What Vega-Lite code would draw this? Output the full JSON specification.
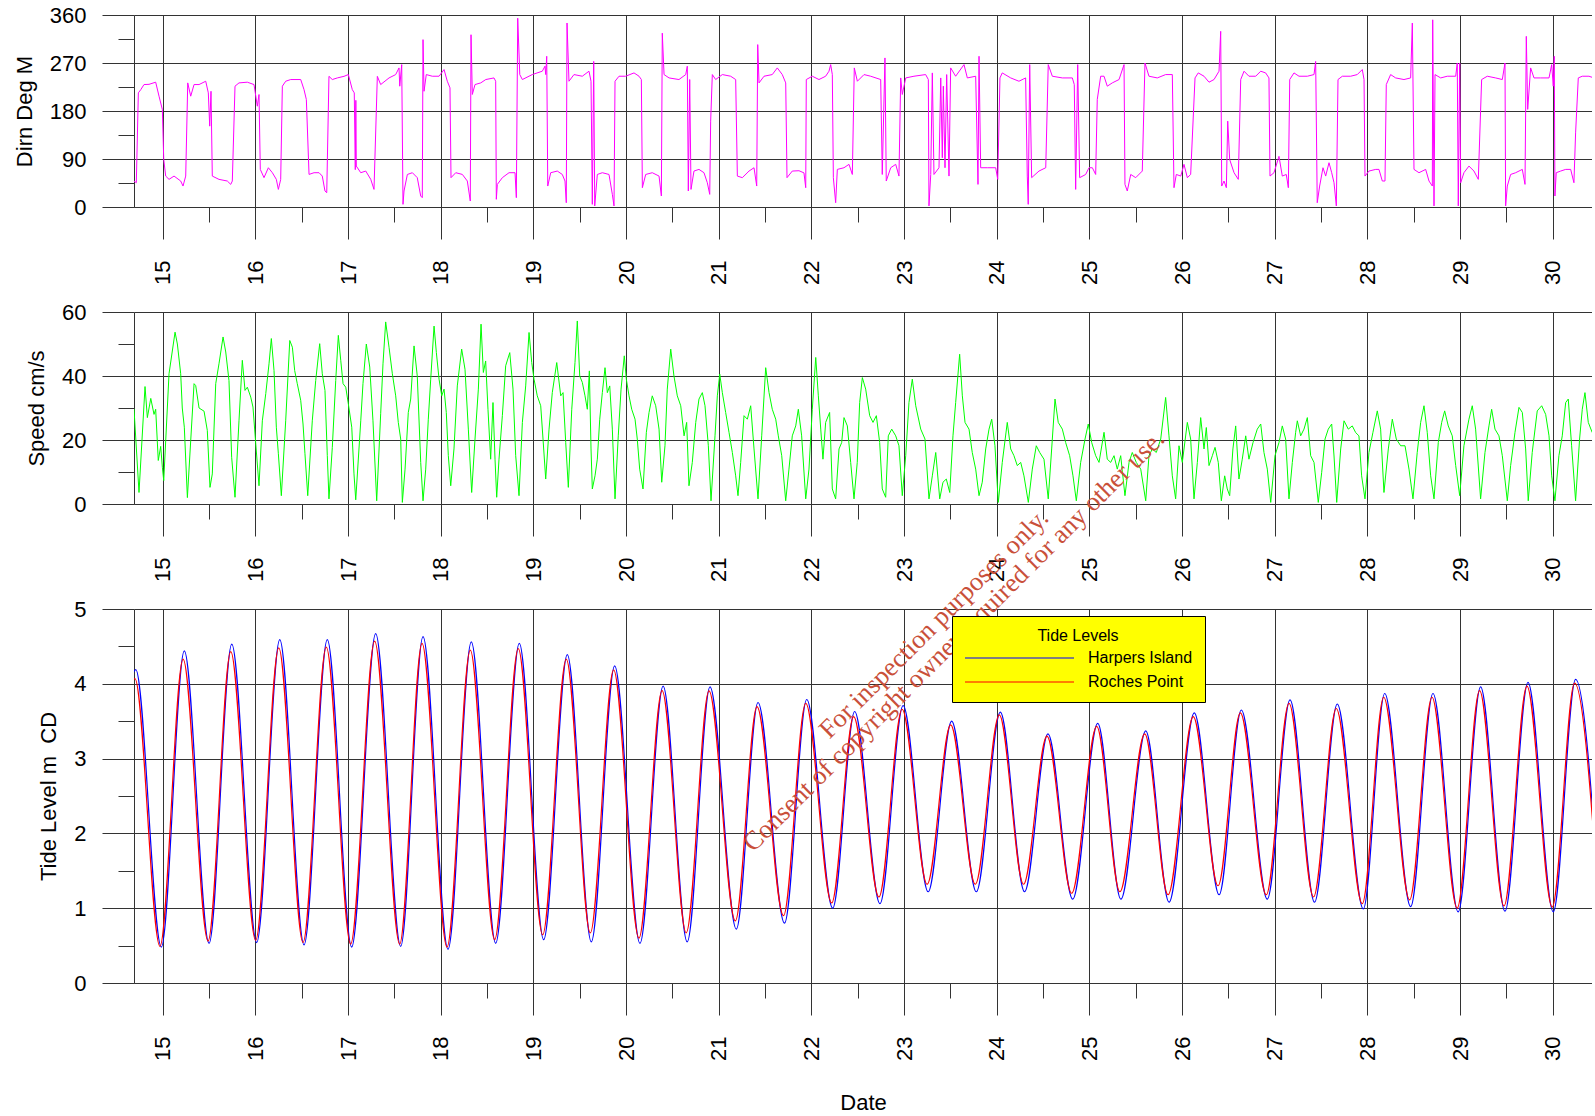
{
"$schema": "https://vega.github.io/schema/vega-lite/v6.json",
"background": "white",
"padding": {"left": 13, "top": 4, "right": 0, "bottom": 0},
"bounds": "flush",
"spacing": 105,
"resolve": {"legend": {"color": "independent"}, "scale": {"color": "independent"}},
"config": {
  "view": {"stroke": null},
  "axis": {
    "domainColor": "#333", "gridColor": "#333", "tickColor": "#333",
    "domainWidth": 1, "gridWidth": 1, "tickWidth": 1,
    "labelFont": "Liberation Sans", "labelFontSize": 22, "labelColor": "#000",
    "titleFont": "Liberation Sans", "titleFontSize": 22, "titleFontWeight": "normal", "titleColor": "#000",
    "labelOverlap": false, "labelFlush": false, "labelBound": false
  }
},
"datasets": {
"dir": [
{"day":14.690,"deg":48.7},{"day":14.715,"deg":45.5},{"day":14.737,"deg":214},{"day":14.763,"deg":220},{"day":14.798,"deg":229.6},{"day":14.852,"deg":230},{"day":14.924,"deg":234},{"day":14.960,"deg":207.8},{"day":14.996,"deg":182.8},{"day":15.011,"deg":89},{"day":15.032,"deg":58},{"day":15.068,"deg":51.8},{"day":15.122,"deg":58},{"day":15.194,"deg":48.7},{"day":15.219,"deg":39.3},{"day":15.248,"deg":58},{"day":15.270,"deg":232.7},{"day":15.302,"deg":207.8},{"day":15.338,"deg":229.6},{"day":15.392,"deg":229.6},{"day":15.464,"deg":235.8},{"day":15.492,"deg":214},{"day":15.507,"deg":151.6},{"day":15.521,"deg":217},{"day":15.535,"deg":58},{"day":15.607,"deg":51.8},{"day":15.697,"deg":48.7},{"day":15.734,"deg":42.4},{"day":15.751,"deg":48.7},{"day":15.780,"deg":226.5},{"day":15.823,"deg":232.7},{"day":15.913,"deg":234},{"day":15.985,"deg":229.6},{"day":16.021,"deg":189},{"day":16.039,"deg":210.9},{"day":16.053,"deg":70.5},{"day":16.093,"deg":55},{"day":16.140,"deg":73.6},{"day":16.183,"deg":64.3},{"day":16.226,"deg":51.8},{"day":16.248,"deg":33},{"day":16.273,"deg":51.8},{"day":16.291,"deg":226.5},{"day":16.327,"deg":235.8},{"day":16.381,"deg":239},{"day":16.489,"deg":239},{"day":16.525,"deg":220},{"day":16.550,"deg":201.5},{"day":16.579,"deg":61.1},{"day":16.633,"deg":64.3},{"day":16.687,"deg":64.3},{"day":16.722,"deg":58},{"day":16.751,"deg":30},{"day":16.770,"deg":26.8},{"day":16.794,"deg":245},{"day":16.830,"deg":239},{"day":16.884,"deg":242},{"day":16.956,"deg":245},{"day":17.003,"deg":248.3},{"day":17.046,"deg":220},{"day":17.067,"deg":214},{"day":17.078,"deg":70},{"day":17.084,"deg":200},{"day":17.089,"deg":76.7},{"day":17.137,"deg":64.3},{"day":17.191,"deg":67.4},{"day":17.245,"deg":51.8},{"day":17.280,"deg":33},{"day":17.316,"deg":245},{"day":17.352,"deg":229.6},{"day":17.442,"deg":242},{"day":17.514,"deg":248.3},{"day":17.550,"deg":260.8},{"day":17.558,"deg":226.5},{"day":17.579,"deg":267},{"day":17.593,"deg":5},{"day":17.604,"deg":30},{"day":17.640,"deg":61},{"day":17.694,"deg":64.3},{"day":17.747,"deg":55},{"day":17.784,"deg":20.6},{"day":17.801,"deg":17.5},{"day":17.809,"deg":313.8},{"day":17.820,"deg":217},{"day":17.844,"deg":248.3},{"day":17.909,"deg":245.2},{"day":17.982,"deg":245.2},{"day":18.036,"deg":257.7},{"day":18.071,"deg":235.8},{"day":18.100,"deg":223.4},{"day":18.111,"deg":55},{"day":18.162,"deg":64.3},{"day":18.233,"deg":61.1},{"day":18.287,"deg":48.7},{"day":18.319,"deg":11.2},{"day":18.327,"deg":323},{"day":18.341,"deg":211},{"day":18.370,"deg":229.6},{"day":18.432,"deg":232.7},{"day":18.486,"deg":239},{"day":18.575,"deg":242},{"day":18.593,"deg":235.8},{"day":18.600,"deg":14.4},{"day":18.611,"deg":42.4},{"day":18.665,"deg":55},{"day":18.737,"deg":64.3},{"day":18.802,"deg":64.3},{"day":18.816,"deg":17.5},{"day":18.831,"deg":354},{"day":18.853,"deg":248.3},{"day":18.881,"deg":239},{"day":18.988,"deg":248.3},{"day":19.096,"deg":254.6},{"day":19.125,"deg":264},{"day":19.133,"deg":248.3},{"day":19.144,"deg":282.6},{"day":19.155,"deg":39.3},{"day":19.187,"deg":64.3},{"day":19.258,"deg":67.4},{"day":19.312,"deg":61},{"day":19.341,"deg":48.7},{"day":19.355,"deg":8},{"day":19.363,"deg":345},{"day":19.384,"deg":235.8},{"day":19.438,"deg":248.3},{"day":19.528,"deg":245.2},{"day":19.600,"deg":254.6},{"day":19.622,"deg":235.8},{"day":19.636,"deg":5},{"day":19.651,"deg":273},{"day":19.662,"deg":2},{"day":19.690,"deg":61},{"day":19.744,"deg":64.3},{"day":19.816,"deg":61},{"day":19.852,"deg":23.7},{"day":19.870,"deg":2},{"day":19.881,"deg":235.8},{"day":19.924,"deg":245.2},{"day":19.996,"deg":245.2},{"day":20.086,"deg":251.4},{"day":20.140,"deg":245.2},{"day":20.165,"deg":239},{"day":20.176,"deg":36.2},{"day":20.212,"deg":61},{"day":20.283,"deg":64.3},{"day":20.356,"deg":58},{"day":20.381,"deg":20.6},{"day":20.391,"deg":326},{"day":20.410,"deg":248.3},{"day":20.464,"deg":242},{"day":20.571,"deg":239},{"day":20.644,"deg":248.3},{"day":20.661,"deg":264},{"day":20.672,"deg":30},{"day":20.687,"deg":239},{"day":20.701,"deg":33},{"day":20.733,"deg":67.4},{"day":20.787,"deg":70.5},{"day":20.841,"deg":64.3},{"day":20.877,"deg":45.5},{"day":20.903,"deg":23.7},{"day":20.913,"deg":161},{"day":20.931,"deg":248.3},{"day":20.967,"deg":239},{"day":21.039,"deg":248.3},{"day":21.129,"deg":245.2},{"day":21.183,"deg":239},{"day":21.201,"deg":58},{"day":21.255,"deg":55},{"day":21.327,"deg":67.4},{"day":21.381,"deg":73.6},{"day":21.410,"deg":39.3},{"day":21.421,"deg":304.5},{"day":21.435,"deg":232.7},{"day":21.489,"deg":245.2},{"day":21.578,"deg":248.3},{"day":21.632,"deg":260.8},{"day":21.686,"deg":248.3},{"day":21.723,"deg":232.7},{"day":21.737,"deg":55},{"day":21.794,"deg":67.4},{"day":21.866,"deg":68},{"day":21.920,"deg":64},{"day":21.939,"deg":36.2},{"day":21.945,"deg":239},{"day":22.010,"deg":245.2},{"day":22.082,"deg":239},{"day":22.154,"deg":245.2},{"day":22.190,"deg":254.6},{"day":22.208,"deg":267},{"day":22.226,"deg":248.3},{"day":22.237,"deg":55},{"day":22.262,"deg":8},{"day":22.280,"deg":70.5},{"day":22.352,"deg":73.6},{"day":22.406,"deg":80},{"day":22.442,"deg":61},{"day":22.463,"deg":260.8},{"day":22.496,"deg":235.8},{"day":22.568,"deg":248.3},{"day":22.640,"deg":245.2},{"day":22.748,"deg":239},{"day":22.765,"deg":61},{"day":22.794,"deg":279.5},{"day":22.808,"deg":48.7},{"day":22.856,"deg":73.6},{"day":22.910,"deg":80},{"day":22.945,"deg":58},{"day":22.964,"deg":242},{"day":22.981,"deg":211},{"day":23.018,"deg":242},{"day":23.107,"deg":245.2},{"day":23.233,"deg":248.3},{"day":23.262,"deg":239},{"day":23.269,"deg":2},{"day":23.288,"deg":61},{"day":23.305,"deg":251.4},{"day":23.323,"deg":61},{"day":23.377,"deg":73.6},{"day":23.396,"deg":242},{"day":23.413,"deg":92.3},{"day":23.424,"deg":226.5},{"day":23.442,"deg":73.6},{"day":23.460,"deg":248.3},{"day":23.485,"deg":58},{"day":23.503,"deg":260.8},{"day":23.557,"deg":245.2},{"day":23.647,"deg":267},{"day":23.683,"deg":242},{"day":23.773,"deg":245.2},{"day":23.798,"deg":42.4},{"day":23.809,"deg":282.6},{"day":23.827,"deg":73.6},{"day":23.898,"deg":73.6},{"day":23.989,"deg":73.6},{"day":24.011,"deg":51.8},{"day":24.035,"deg":242},{"day":24.060,"deg":251.4},{"day":24.151,"deg":242},{"day":24.240,"deg":235.8},{"day":24.312,"deg":242},{"day":24.330,"deg":58},{"day":24.340,"deg":5},{"day":24.356,"deg":267},{"day":24.377,"deg":55},{"day":24.456,"deg":67.4},{"day":24.529,"deg":73.6},{"day":24.556,"deg":267},{"day":24.600,"deg":245.2},{"day":24.708,"deg":242},{"day":24.816,"deg":242},{"day":24.837,"deg":229.6},{"day":24.852,"deg":33},{"day":24.874,"deg":267},{"day":24.895,"deg":55},{"day":24.960,"deg":61},{"day":24.996,"deg":73.6},{"day":25.032,"deg":73.6},{"day":25.068,"deg":61},{"day":25.085,"deg":201.5},{"day":25.122,"deg":245.2},{"day":25.158,"deg":245.2},{"day":25.193,"deg":226.5},{"day":25.247,"deg":232.7},{"day":25.320,"deg":239},{"day":25.374,"deg":267},{"day":25.384,"deg":42.4},{"day":25.409,"deg":30},{"day":25.446,"deg":61},{"day":25.500,"deg":55},{"day":25.571,"deg":67.4},{"day":25.600,"deg":270},{"day":25.643,"deg":245.2},{"day":25.733,"deg":242},{"day":25.823,"deg":248.3},{"day":25.895,"deg":248.3},{"day":25.913,"deg":36.2},{"day":25.938,"deg":61},{"day":25.986,"deg":58},{"day":26.021,"deg":80},{"day":26.057,"deg":55},{"day":26.093,"deg":61},{"day":26.140,"deg":242},{"day":26.175,"deg":251.4},{"day":26.237,"deg":245.2},{"day":26.291,"deg":234},{"day":26.345,"deg":239},{"day":26.399,"deg":254.6},{"day":26.417,"deg":329.4},{"day":26.428,"deg":39.3},{"day":26.453,"deg":48.7},{"day":26.478,"deg":36.2},{"day":26.493,"deg":161},{"day":26.514,"deg":89},{"day":26.561,"deg":64.3},{"day":26.607,"deg":51.8},{"day":26.633,"deg":239},{"day":26.669,"deg":254.6},{"day":26.722,"deg":245.2},{"day":26.795,"deg":245.2},{"day":26.849,"deg":254.6},{"day":26.902,"deg":251.4},{"day":26.938,"deg":242},{"day":26.949,"deg":58},{"day":26.992,"deg":64.3},{"day":27.046,"deg":95},{"day":27.082,"deg":58},{"day":27.125,"deg":61},{"day":27.147,"deg":36.2},{"day":27.162,"deg":239},{"day":27.208,"deg":251.4},{"day":27.262,"deg":245.2},{"day":27.352,"deg":245.2},{"day":27.424,"deg":248.3},{"day":27.442,"deg":273},{"day":27.459,"deg":8},{"day":27.485,"deg":39.3},{"day":27.521,"deg":73.6},{"day":27.550,"deg":58},{"day":27.586,"deg":83},{"day":27.615,"deg":64.3},{"day":27.640,"deg":45.5},{"day":27.665,"deg":2},{"day":27.683,"deg":239},{"day":27.730,"deg":245.2},{"day":27.820,"deg":245.2},{"day":27.891,"deg":248.3},{"day":27.945,"deg":257.7},{"day":27.964,"deg":239},{"day":27.974,"deg":58},{"day":28.017,"deg":67.4},{"day":28.090,"deg":70.5},{"day":28.125,"deg":70.5},{"day":28.161,"deg":48.7},{"day":28.190,"deg":48.7},{"day":28.204,"deg":229.6},{"day":28.251,"deg":248.3},{"day":28.305,"deg":242},{"day":28.395,"deg":239},{"day":28.467,"deg":242},{"day":28.485,"deg":345},{"day":28.503,"deg":70.5},{"day":28.557,"deg":64.3},{"day":28.629,"deg":70.5},{"day":28.665,"deg":48.7},{"day":28.701,"deg":39.3},{"day":28.705,"deg":351},{"day":28.719,"deg":2},{"day":28.730,"deg":248.3},{"day":28.791,"deg":242},{"day":28.862,"deg":245.2},{"day":28.953,"deg":245.2},{"day":28.970,"deg":270},{"day":28.981,"deg":2},{"day":28.996,"deg":270},{"day":29.007,"deg":45.5},{"day":29.042,"deg":64.3},{"day":29.096,"deg":76.7},{"day":29.150,"deg":67.4},{"day":29.197,"deg":51.8},{"day":29.233,"deg":239},{"day":29.294,"deg":245.2},{"day":29.384,"deg":242},{"day":29.456,"deg":239},{"day":29.485,"deg":270},{"day":29.492,"deg":2},{"day":29.510,"deg":39.3},{"day":29.546,"deg":61},{"day":29.600,"deg":64.3},{"day":29.672,"deg":70.5},{"day":29.701,"deg":42.4},{"day":29.715,"deg":320},{"day":29.730,"deg":183},{"day":29.762,"deg":260.8},{"day":29.798,"deg":242},{"day":29.870,"deg":242},{"day":29.960,"deg":242},{"day":29.989,"deg":267},{"day":30.006,"deg":226.5},{"day":30.017,"deg":282.6},{"day":30.024,"deg":20.6},{"day":30.038,"deg":64.3},{"day":30.086,"deg":67.4},{"day":30.140,"deg":70.5},{"day":30.194,"deg":70.5},{"day":30.229,"deg":45.5},{"day":30.247,"deg":139},{"day":30.276,"deg":242},{"day":30.319,"deg":245.2},{"day":30.391,"deg":245.2},{"day":30.445,"deg":242}
],
"speed": [
{"day":14.690,"cms":29.7},{"day":14.744,"cms":3.6},{"day":14.809,"cms":36.7},{"day":14.834,"cms":27},{"day":14.871,"cms":33},{"day":14.906,"cms":28},{"day":14.924,"cms":29.6},{"day":14.952,"cms":13.6},{"day":14.978,"cms":18},{"day":14.996,"cms":11.5},{"day":15.011,"cms":7.3},{"day":15.068,"cms":40.7},{"day":15.133,"cms":53.7},{"day":15.158,"cms":50},{"day":15.194,"cms":40.7},{"day":15.211,"cms":30},{"day":15.233,"cms":24},{"day":15.266,"cms":2},{"day":15.302,"cms":19.8},{"day":15.338,"cms":37.6},{"day":15.356,"cms":37},{"day":15.392,"cms":30},{"day":15.446,"cms":29},{"day":15.481,"cms":23},{"day":15.510,"cms":5.2},{"day":15.535,"cms":9.4},{"day":15.572,"cms":37.6},{"day":15.607,"cms":43.8},{"day":15.651,"cms":52.2},{"day":15.680,"cms":47.5},{"day":15.715,"cms":38.6},{"day":15.744,"cms":14.6},{"day":15.780,"cms":2.1},{"day":15.823,"cms":26},{"day":15.859,"cms":44.9},{"day":15.888,"cms":35.5},{"day":15.913,"cms":36.5},{"day":15.950,"cms":33.4},{"day":15.974,"cms":30.3},{"day":16.004,"cms":18.8},{"day":16.039,"cms":5.7},{"day":16.075,"cms":26},{"day":16.112,"cms":34.5},{"day":16.147,"cms":43.8},{"day":16.172,"cms":51.7},{"day":16.201,"cms":41.7},{"day":16.226,"cms":24},{"day":16.248,"cms":15.7},{"day":16.280,"cms":2.6},{"day":16.327,"cms":26},{"day":16.371,"cms":51.1},{"day":16.399,"cms":49},{"day":16.424,"cms":41.7},{"day":16.452,"cms":37.6},{"day":16.489,"cms":32.4},{"day":16.514,"cms":25},{"day":16.535,"cms":15.7},{"day":16.565,"cms":2.6},{"day":16.614,"cms":26},{"day":16.651,"cms":38.6},{"day":16.694,"cms":50.1},{"day":16.722,"cms":40.7},{"day":16.751,"cms":35.5},{"day":16.776,"cms":15.1},{"day":16.794,"cms":1.6},{"day":16.830,"cms":17.7},{"day":16.867,"cms":38.6},{"day":16.895,"cms":52.7},{"day":16.921,"cms":44.9},{"day":16.946,"cms":37.6},{"day":16.975,"cms":36.5},{"day":17.003,"cms":31.3},{"day":17.040,"cms":24},{"day":17.064,"cms":9.4},{"day":17.083,"cms":1.3},{"day":17.137,"cms":26},{"day":17.161,"cms":37.6},{"day":17.197,"cms":50},{"day":17.234,"cms":42.8},{"day":17.269,"cms":26},{"day":17.309,"cms":1},{"day":17.352,"cms":28.2},{"day":17.377,"cms":43.8},{"day":17.406,"cms":56.9},{"day":17.442,"cms":49},{"day":17.478,"cms":40.7},{"day":17.514,"cms":33.8},{"day":17.542,"cms":25.5},{"day":17.568,"cms":20.3},{"day":17.586,"cms":0.5},{"day":17.615,"cms":10.9},{"day":17.650,"cms":28.6},{"day":17.676,"cms":32.8},{"day":17.712,"cms":49.4},{"day":17.747,"cms":40},{"day":17.784,"cms":13},{"day":17.809,"cms":1},{"day":17.838,"cms":10.9},{"day":17.866,"cms":26.5},{"day":17.892,"cms":39},{"day":17.928,"cms":55.6},{"day":17.953,"cms":47.3},{"day":17.982,"cms":39},{"day":18.011,"cms":33.8},{"day":18.036,"cms":35.9},{"day":18.060,"cms":28.6},{"day":18.082,"cms":15.1},{"day":18.108,"cms":5.7},{"day":18.143,"cms":17.2},{"day":18.179,"cms":36.9},{"day":18.226,"cms":48.4},{"day":18.262,"cms":42.1},{"day":18.298,"cms":23.4},{"day":18.334,"cms":3.6},{"day":18.370,"cms":20.3},{"day":18.406,"cms":35.9},{"day":18.435,"cms":56.2},{"day":18.460,"cms":41.1},{"day":18.485,"cms":44.7},{"day":18.510,"cms":29.6},{"day":18.539,"cms":14},{"day":18.564,"cms":31.7},{"day":18.586,"cms":14},{"day":18.604,"cms":2.1},{"day":18.629,"cms":14},{"day":18.665,"cms":27.6},{"day":18.701,"cms":43.2},{"day":18.745,"cms":47.3},{"day":18.780,"cms":35.9},{"day":18.809,"cms":15.1},{"day":18.845,"cms":2.6},{"day":18.881,"cms":25.5},{"day":18.917,"cms":36.9},{"day":18.953,"cms":53.6},{"day":18.982,"cms":44.2},{"day":19.007,"cms":39},{"day":19.042,"cms":33.8},{"day":19.079,"cms":30.7},{"day":19.104,"cms":20.3},{"day":19.133,"cms":7.8},{"day":19.169,"cms":23.4},{"day":19.204,"cms":34.8},{"day":19.252,"cms":44.2},{"day":19.295,"cms":33.8},{"day":19.320,"cms":34.8},{"day":19.349,"cms":19.2},{"day":19.377,"cms":5.2},{"day":19.414,"cms":29.6},{"day":19.449,"cms":44.2},{"day":19.474,"cms":57.2},{"day":19.500,"cms":40},{"day":19.528,"cms":38},{"day":19.557,"cms":33.8},{"day":19.582,"cms":29.6},{"day":19.604,"cms":41.6},{"day":19.622,"cms":17.2},{"day":19.636,"cms":4.7},{"day":19.665,"cms":8.8},{"day":19.690,"cms":14},{"day":19.716,"cms":26.5},{"day":19.744,"cms":34.8},{"day":19.773,"cms":42.6},{"day":19.798,"cms":34.8},{"day":19.824,"cms":36.9},{"day":19.852,"cms":23.4},{"day":19.881,"cms":1.6},{"day":19.916,"cms":21.3},{"day":19.946,"cms":35.9},{"day":19.981,"cms":46.3},{"day":20.003,"cms":39},{"day":20.032,"cms":33.8},{"day":20.061,"cms":29.6},{"day":20.097,"cms":26.5},{"day":20.121,"cms":20.3},{"day":20.147,"cms":10.9},{"day":20.183,"cms":4.7},{"day":20.219,"cms":22.4},{"day":20.248,"cms":28.6},{"day":20.283,"cms":33.8},{"day":20.320,"cms":30.7},{"day":20.356,"cms":23.4},{"day":20.385,"cms":6.8},{"day":20.420,"cms":18.2},{"day":20.445,"cms":35.9},{"day":20.482,"cms":48.4},{"day":20.517,"cms":40},{"day":20.553,"cms":33.8},{"day":20.590,"cms":30.7},{"day":20.626,"cms":21.3},{"day":20.654,"cms":25.5},{"day":20.679,"cms":5.7},{"day":20.715,"cms":13},{"day":20.752,"cms":25.5},{"day":20.787,"cms":32.8},{"day":20.823,"cms":34.8},{"day":20.852,"cms":30.7},{"day":20.888,"cms":18.2},{"day":20.917,"cms":1},{"day":20.960,"cms":21.3},{"day":20.985,"cms":33.8},{"day":21.011,"cms":40.6},{"day":21.039,"cms":34.8},{"day":21.075,"cms":28.6},{"day":21.111,"cms":22.4},{"day":21.147,"cms":16.1},{"day":21.183,"cms":8.8},{"day":21.208,"cms":2.6},{"day":21.237,"cms":13},{"day":21.273,"cms":27.6},{"day":21.309,"cms":26.5},{"day":21.345,"cms":30.7},{"day":21.381,"cms":17.2},{"day":21.424,"cms":1.6},{"day":21.464,"cms":21.3},{"day":21.507,"cms":42.6},{"day":21.543,"cms":34.8},{"day":21.578,"cms":29.6},{"day":21.615,"cms":26.5},{"day":21.643,"cms":21.3},{"day":21.680,"cms":15.1},{"day":21.723,"cms":1},{"day":21.758,"cms":10.9},{"day":21.794,"cms":21.3},{"day":21.831,"cms":24.4},{"day":21.859,"cms":29.6},{"day":21.895,"cms":21.3},{"day":21.939,"cms":1.6},{"day":21.974,"cms":10.9},{"day":22.010,"cms":29.6},{"day":22.047,"cms":45.8},{"day":22.075,"cms":33.8},{"day":22.101,"cms":23.4},{"day":22.125,"cms":14},{"day":22.154,"cms":25.5},{"day":22.197,"cms":28.6},{"day":22.226,"cms":4.7},{"day":22.262,"cms":1.6},{"day":22.298,"cms":17.2},{"day":22.327,"cms":19.2},{"day":22.352,"cms":27},{"day":22.388,"cms":24.4},{"day":22.424,"cms":13},{"day":22.460,"cms":1.6},{"day":22.495,"cms":13},{"day":22.521,"cms":31.7},{"day":22.550,"cms":39.5},{"day":22.586,"cms":35.9},{"day":22.629,"cms":27.6},{"day":22.665,"cms":25.5},{"day":22.701,"cms":27.6},{"day":22.737,"cms":19.2},{"day":22.765,"cms":4.7},{"day":22.802,"cms":2.1},{"day":22.830,"cms":21.3},{"day":22.867,"cms":23.4},{"day":22.910,"cms":21.3},{"day":22.945,"cms":18.2},{"day":22.981,"cms":2.6},{"day":23.018,"cms":15.1},{"day":23.053,"cms":31.7},{"day":23.089,"cms":39},{"day":23.126,"cms":30.7},{"day":23.180,"cms":23.4},{"day":23.226,"cms":20.3},{"day":23.269,"cms":1.6},{"day":23.305,"cms":8.8},{"day":23.342,"cms":16.1},{"day":23.385,"cms":1.6},{"day":23.420,"cms":6.8},{"day":23.456,"cms":7.8},{"day":23.493,"cms":3.6},{"day":23.528,"cms":21.3},{"day":23.557,"cms":31.7},{"day":23.600,"cms":46.8},{"day":23.629,"cms":33.8},{"day":23.658,"cms":25.5},{"day":23.701,"cms":23.4},{"day":23.736,"cms":16.1},{"day":23.773,"cms":10.9},{"day":23.809,"cms":2.6},{"day":23.844,"cms":6.8},{"day":23.881,"cms":17.2},{"day":23.917,"cms":23.4},{"day":23.946,"cms":26.5},{"day":23.981,"cms":18.2},{"day":24.017,"cms":0.5},{"day":24.060,"cms":13},{"day":24.114,"cms":25.5},{"day":24.151,"cms":17.2},{"day":24.186,"cms":15.1},{"day":24.222,"cms":12},{"day":24.259,"cms":13},{"day":24.294,"cms":8.8},{"day":24.341,"cms":0.5},{"day":24.384,"cms":10.9},{"day":24.427,"cms":18.2},{"day":24.464,"cms":16.1},{"day":24.510,"cms":14},{"day":24.556,"cms":1.6},{"day":24.593,"cms":17.2},{"day":24.629,"cms":32.8},{"day":24.664,"cms":25.5},{"day":24.708,"cms":23.4},{"day":24.744,"cms":19.2},{"day":24.787,"cms":15.1},{"day":24.823,"cms":8.8},{"day":24.859,"cms":1},{"day":24.906,"cms":13},{"day":24.953,"cms":20.3},{"day":24.988,"cms":25},{"day":25.025,"cms":19.2},{"day":25.068,"cms":15.1},{"day":25.104,"cms":13},{"day":25.158,"cms":22.4},{"day":25.193,"cms":14},{"day":25.230,"cms":13},{"day":25.266,"cms":15.1},{"day":25.301,"cms":10.9},{"day":25.338,"cms":15.1},{"day":25.384,"cms":2.6},{"day":25.428,"cms":13},{"day":25.463,"cms":16.1},{"day":25.506,"cms":13},{"day":25.554,"cms":10.9},{"day":25.608,"cms":1},{"day":25.643,"cms":15.1},{"day":25.679,"cms":17.2},{"day":25.722,"cms":16.1},{"day":25.770,"cms":20.3},{"day":25.823,"cms":33.3},{"day":25.859,"cms":21.3},{"day":25.895,"cms":8.8},{"day":25.931,"cms":1.6},{"day":25.967,"cms":18.2},{"day":26.003,"cms":13},{"day":26.057,"cms":25.5},{"day":26.093,"cms":20.3},{"day":26.129,"cms":1.6},{"day":26.165,"cms":13},{"day":26.201,"cms":27},{"day":26.237,"cms":17.2},{"day":26.262,"cms":23.9},{"day":26.291,"cms":12},{"day":26.327,"cms":15.1},{"day":26.356,"cms":17.7},{"day":26.391,"cms":13},{"day":26.424,"cms":1},{"day":26.460,"cms":8.8},{"day":26.488,"cms":4.7},{"day":26.514,"cms":2.6},{"day":26.549,"cms":17.2},{"day":26.579,"cms":24.4},{"day":26.614,"cms":7.8},{"day":26.650,"cms":14},{"day":26.687,"cms":21.3},{"day":26.722,"cms":14},{"day":26.766,"cms":19.2},{"day":26.812,"cms":23.4},{"day":26.849,"cms":25},{"day":26.884,"cms":16.1},{"day":26.920,"cms":10.9},{"day":26.957,"cms":0.5},{"day":27.003,"cms":15.1},{"day":27.046,"cms":19.2},{"day":27.082,"cms":24.4},{"day":27.118,"cms":20.3},{"day":27.154,"cms":1.6},{"day":27.190,"cms":13},{"day":27.226,"cms":22.4},{"day":27.244,"cms":26},{"day":27.280,"cms":21.3},{"day":27.316,"cms":23.4},{"day":27.352,"cms":27},{"day":27.388,"cms":15.1},{"day":27.424,"cms":13},{"day":27.470,"cms":0.5},{"day":27.507,"cms":9.9},{"day":27.543,"cms":20.3},{"day":27.578,"cms":23.4},{"day":27.615,"cms":25},{"day":27.640,"cms":15},{"day":27.669,"cms":0.5},{"day":27.712,"cms":17.2},{"day":27.748,"cms":26},{"day":27.794,"cms":23.4},{"day":27.837,"cms":24.4},{"day":27.874,"cms":22.3},{"day":27.909,"cms":21.3},{"day":27.938,"cms":8.8},{"day":27.974,"cms":1.6},{"day":28.017,"cms":16.1},{"day":28.060,"cms":22.4},{"day":28.107,"cms":29.1},{"day":28.143,"cms":23.4},{"day":28.179,"cms":3.6},{"day":28.226,"cms":17.2},{"day":28.269,"cms":26.5},{"day":28.312,"cms":20.3},{"day":28.359,"cms":18.2},{"day":28.406,"cms":18.2},{"day":28.449,"cms":10.9},{"day":28.492,"cms":1.6},{"day":28.538,"cms":16.1},{"day":28.575,"cms":25.5},{"day":28.611,"cms":30.7},{"day":28.646,"cms":22.4},{"day":28.683,"cms":8.8},{"day":28.719,"cms":1.6},{"day":28.765,"cms":19.2},{"day":28.802,"cms":25.5},{"day":28.834,"cms":29.1},{"day":28.873,"cms":24.4},{"day":28.916,"cms":21.3},{"day":28.953,"cms":12},{"day":28.996,"cms":2.6},{"day":29.042,"cms":18.2},{"day":29.096,"cms":26.5},{"day":29.132,"cms":30.7},{"day":29.168,"cms":23.4},{"day":29.222,"cms":1.6},{"day":29.269,"cms":16.1},{"day":29.312,"cms":24.4},{"day":29.341,"cms":29.6},{"day":29.377,"cms":23.4},{"day":29.420,"cms":21.3},{"day":29.456,"cms":15.1},{"day":29.510,"cms":1},{"day":29.546,"cms":12},{"day":29.593,"cms":22.4},{"day":29.636,"cms":30.2},{"day":29.672,"cms":28.6},{"day":29.708,"cms":17.2},{"day":29.736,"cms":1},{"day":29.779,"cms":16.1},{"day":29.833,"cms":29.1},{"day":29.881,"cms":30.7},{"day":29.924,"cms":28},{"day":29.960,"cms":21.3},{"day":29.989,"cms":8.8},{"day":30.024,"cms":1},{"day":30.067,"cms":15.1},{"day":30.103,"cms":21.3},{"day":30.140,"cms":31.7},{"day":30.168,"cms":32.8},{"day":30.204,"cms":18.2},{"day":30.247,"cms":1},{"day":30.290,"cms":20.3},{"day":30.319,"cms":29.6},{"day":30.348,"cms":34.8},{"day":30.384,"cms":25.5},{"day":30.427,"cms":22.3}
],
"tide": [
{"day":14.45,"site":"Harpers Island","level":0.55},{"day":14.709,"site":"Harpers Island","level":4.19},{"day":14.985,"site":"Harpers Island","level":0.48},{"day":15.233,"site":"Harpers Island","level":4.44},{"day":15.500,"site":"Harpers Island","level":0.53},{"day":15.745,"site":"Harpers Island","level":4.53},{"day":16.014,"site":"Harpers Island","level":0.54},{"day":16.263,"site":"Harpers Island","level":4.59},{"day":16.525,"site":"Harpers Island","level":0.51},{"day":16.776,"site":"Harpers Island","level":4.59},{"day":17.039,"site":"Harpers Island","level":0.48},{"day":17.298,"site":"Harpers Island","level":4.67},{"day":17.568,"site":"Harpers Island","level":0.49},{"day":17.809,"site":"Harpers Island","level":4.63},{"day":18.079,"site":"Harpers Island","level":0.45},{"day":18.330,"site":"Harpers Island","level":4.56},{"day":18.593,"site":"Harpers Island","level":0.53},{"day":18.848,"site":"Harpers Island","level":4.54},{"day":19.111,"site":"Harpers Island","level":0.58},{"day":19.366,"site":"Harpers Island","level":4.39},{"day":19.625,"site":"Harpers Island","level":0.55},{"day":19.877,"site":"Harpers Island","level":4.24},{"day":20.150,"site":"Harpers Island","level":0.53},{"day":20.400,"site":"Harpers Island","level":3.97},{"day":20.660,"site":"Harpers Island","level":0.55},{"day":20.906,"site":"Harpers Island","level":3.96},{"day":21.190,"site":"Harpers Island","level":0.72},{"day":21.424,"site":"Harpers Island","level":3.75},{"day":21.710,"site":"Harpers Island","level":0.80},{"day":21.950,"site":"Harpers Island","level":3.79},{"day":22.230,"site":"Harpers Island","level":1.0},{"day":22.467,"site":"Harpers Island","level":3.63},{"day":22.740,"site":"Harpers Island","level":1.06},{"day":22.990,"site":"Harpers Island","level":3.71},{"day":23.260,"site":"Harpers Island","level":1.22},{"day":23.514,"site":"Harpers Island","level":3.50},{"day":23.780,"site":"Harpers Island","level":1.22},{"day":24.039,"site":"Harpers Island","level":3.62},{"day":24.300,"site":"Harpers Island","level":1.22},{"day":24.553,"site":"Harpers Island","level":3.33},{"day":24.820,"site":"Harpers Island","level":1.12},{"day":25.090,"site":"Harpers Island","level":3.47},{"day":25.340,"site":"Harpers Island","level":1.12},{"day":25.608,"site":"Harpers Island","level":3.37},{"day":25.860,"site":"Harpers Island","level":1.08},{"day":26.132,"site":"Harpers Island","level":3.61},{"day":26.400,"site":"Harpers Island","level":1.18},{"day":26.640,"site":"Harpers Island","level":3.65},{"day":26.920,"site":"Harpers Island","level":1.12},{"day":27.165,"site":"Harpers Island","level":3.785},{"day":27.430,"site":"Harpers Island","level":1.08},{"day":27.675,"site":"Harpers Island","level":3.73},{"day":27.956,"site":"Harpers Island","level":0.99},{"day":28.187,"site":"Harpers Island","level":3.87},{"day":28.467,"site":"Harpers Island","level":1.02},{"day":28.708,"site":"Harpers Island","level":3.87},{"day":28.980,"site":"Harpers Island","level":0.95},{"day":29.222,"site":"Harpers Island","level":3.96},{"day":29.485,"site":"Harpers Island","level":0.96},{"day":29.733,"site":"Harpers Island","level":4.02},{"day":30.006,"site":"Harpers Island","level":0.95},{"day":30.247,"site":"Harpers Island","level":4.06},{"day":30.51,"site":"Harpers Island","level":0.95},
{"day":14.44,"site":"Roches Point","level":0.6},{"day":14.70,"site":"Roches Point","level":4.07},{"day":14.970,"site":"Roches Point","level":0.49},{"day":15.220,"site":"Roches Point","level":4.33},{"day":15.489,"site":"Roches Point","level":0.56},{"day":15.734,"site":"Roches Point","level":4.43},{"day":16.003,"site":"Roches Point","level":0.57},{"day":16.252,"site":"Roches Point","level":4.48},{"day":16.514,"site":"Roches Point","level":0.54},{"day":16.765,"site":"Roches Point","level":4.49},{"day":17.028,"site":"Roches Point","level":0.52},{"day":17.287,"site":"Roches Point","level":4.57},{"day":17.557,"site":"Roches Point","level":0.52},{"day":17.798,"site":"Roches Point","level":4.54},{"day":18.068,"site":"Roches Point","level":0.48},{"day":18.319,"site":"Roches Point","level":4.45},{"day":18.582,"site":"Roches Point","level":0.58},{"day":18.837,"site":"Roches Point","level":4.47},{"day":19.100,"site":"Roches Point","level":0.645},{"day":19.355,"site":"Roches Point","level":4.33},{"day":19.614,"site":"Roches Point","level":0.67},{"day":19.866,"site":"Roches Point","level":4.185},{"day":20.139,"site":"Roches Point","level":0.60},{"day":20.389,"site":"Roches Point","level":3.91},{"day":20.649,"site":"Roches Point","level":0.67},{"day":20.895,"site":"Roches Point","level":3.905},{"day":21.179,"site":"Roches Point","level":0.83},{"day":21.413,"site":"Roches Point","level":3.695},{"day":21.699,"site":"Roches Point","level":0.90},{"day":21.939,"site":"Roches Point","level":3.74},{"day":22.219,"site":"Roches Point","level":1.07},{"day":22.456,"site":"Roches Point","level":3.56},{"day":22.729,"site":"Roches Point","level":1.15},{"day":22.979,"site":"Roches Point","level":3.66},{"day":23.249,"site":"Roches Point","level":1.32},{"day":23.503,"site":"Roches Point","level":3.45},{"day":23.769,"site":"Roches Point","level":1.32},{"day":24.028,"site":"Roches Point","level":3.585},{"day":24.289,"site":"Roches Point","level":1.32},{"day":24.542,"site":"Roches Point","level":3.30},{"day":24.809,"site":"Roches Point","level":1.2},{"day":25.079,"site":"Roches Point","level":3.43},{"day":25.329,"site":"Roches Point","level":1.22},{"day":25.597,"site":"Roches Point","level":3.33},{"day":25.849,"site":"Roches Point","level":1.18},{"day":26.121,"site":"Roches Point","level":3.56},{"day":26.389,"site":"Roches Point","level":1.30},{"day":26.629,"site":"Roches Point","level":3.61},{"day":26.909,"site":"Roches Point","level":1.18},{"day":27.154,"site":"Roches Point","level":3.74},{"day":27.419,"site":"Roches Point","level":1.15},{"day":27.664,"site":"Roches Point","level":3.67},{"day":27.945,"site":"Roches Point","level":1.06},{"day":28.176,"site":"Roches Point","level":3.82},{"day":28.456,"site":"Roches Point","level":1.11},{"day":28.697,"site":"Roches Point","level":3.82},{"day":28.969,"site":"Roches Point","level":1.00},{"day":29.211,"site":"Roches Point","level":3.91},{"day":29.474,"site":"Roches Point","level":1.03},{"day":29.722,"site":"Roches Point","level":3.97},{"day":29.995,"site":"Roches Point","level":1.015},{"day":30.236,"site":"Roches Point","level":4.01},{"day":30.50,"site":"Roches Point","level":1.02}
],
"wm": [
{"day":23.323,"level":4.80,"txt":"For inspection purposes only."},
{"day":23.539,"level":4.573,"txt":"Consent of copyright owner required for any other use."}
]
},
"vconcat": [
{
 "width": 1458, "height": 192,
 "data": {"name": "dir"},
 "mark": {"type": "line", "color": "#ff00ff", "strokeWidth": 1, "clip": true},
 "encoding": {
  "x": {"field": "day", "type": "quantitative", "scale": {"domain": [14.69, 30.424], "nice": false, "zero": false},
   "axis": {"title": null, "values": [15,15.5,16,16.5,17,17.5,18,18.5,19,19.5,20,20.5,21,21.5,22,22.5,23,23.5,24,24.5,25,25.5,26,26.5,27,27.5,28,28.5,29,29.5,30], "grid": true,
    "gridOpacity": {"condition": {"test": "datum.value % 1 === 0", "value": 1}, "value": 0},
    "tickSize": {"condition": {"test": "datum.value % 1 === 0", "value": 32}, "value": 15},
    "labelExpr": "datum.value % 1 === 0 ? format(datum.value, 'd') : ''",
    "labelAngle": 270, "labelAlign": "right", "labelBaseline": "middle", "labelPadding": 21}},
  "y": {"field": "deg", "type": "quantitative", "scale": {"domain": [0, 360], "nice": false},
   "axis": {"title": "Dirn Deg M", "values": [0,45,90,135,180,225,270,315,360], "grid": true,
    "gridOpacity": {"condition": {"test": "datum.value % 90 === 0", "value": 1}, "value": 0},
    "tickSize": {"condition": {"test": "datum.value % 90 === 0", "value": 32}, "value": 16},
    "labelExpr": "datum.value % 90 === 0 ? format(datum.value, 'd') : ''",
    "labelPadding": 16, "titlePadding": 13}}
 }
},
{
 "width": 1458, "height": 192,
 "data": {"name": "speed"},
 "mark": {"type": "line", "color": "#00ff00", "strokeWidth": 1, "clip": true},
 "encoding": {
  "x": {"field": "day", "type": "quantitative", "scale": {"domain": [14.69, 30.424], "nice": false, "zero": false},
   "axis": {"title": null, "values": [15,15.5,16,16.5,17,17.5,18,18.5,19,19.5,20,20.5,21,21.5,22,22.5,23,23.5,24,24.5,25,25.5,26,26.5,27,27.5,28,28.5,29,29.5,30], "grid": true,
    "gridOpacity": {"condition": {"test": "datum.value % 1 === 0", "value": 1}, "value": 0},
    "tickSize": {"condition": {"test": "datum.value % 1 === 0", "value": 32}, "value": 15},
    "labelExpr": "datum.value % 1 === 0 ? format(datum.value, 'd') : ''",
    "labelAngle": 270, "labelAlign": "right", "labelBaseline": "middle", "labelPadding": 21}},
  "y": {"field": "cms", "type": "quantitative", "scale": {"domain": [0, 60], "nice": false},
   "axis": {"title": "Speed cm/s", "values": [0,10,20,30,40,50,60], "grid": true,
    "gridOpacity": {"condition": {"test": "datum.value % 20 === 0", "value": 1}, "value": 0},
    "tickSize": {"condition": {"test": "datum.value % 20 === 0", "value": 32}, "value": 16},
    "labelExpr": "datum.value % 20 === 0 ? format(datum.value, 'd') : ''",
    "labelPadding": 16, "titlePadding": 13}}
 }
},
{
 "width": 1458, "height": 374,
 "encoding": {
  "x": {"field": "day", "type": "quantitative", "scale": {"domain": [14.69, 30.424], "nice": false, "zero": false},
   "axis": {"title": "Date", "titlePadding": 32, "values": [15,15.5,16,16.5,17,17.5,18,18.5,19,19.5,20,20.5,21,21.5,22,22.5,23,23.5,24,24.5,25,25.5,26,26.5,27,27.5,28,28.5,29,29.5,30], "grid": true,
    "gridOpacity": {"condition": {"test": "datum.value % 1 === 0", "value": 1}, "value": 0},
    "tickSize": {"condition": {"test": "datum.value % 1 === 0", "value": 32}, "value": 15},
    "labelExpr": "datum.value % 1 === 0 ? format(datum.value, 'd') : ''",
    "labelAngle": 270, "labelAlign": "right", "labelBaseline": "middle", "labelPadding": 21}},
  "y": {"field": "level", "type": "quantitative", "scale": {"domain": [0, 5], "nice": false},
   "axis": {"title": "Tide Level m\u00a0 CD", "values": [0,0.5,1,1.5,2,2.5,3,3.5,4,4.5,5], "grid": true,
    "gridOpacity": {"condition": {"test": "datum.value % 1 === 0", "value": 1}, "value": 0},
    "tickSize": {"condition": {"test": "datum.value % 1 === 0", "value": 32}, "value": 16},
    "labelExpr": "datum.value % 1 === 0 ? format(datum.value, 'd') : ''",
    "labelPadding": 16, "titlePadding": 13}}
 },
 "layer": [
  {
   "data": {"name": "tide"},
   "mark": {"type": "line", "interpolate": "monotone", "strokeWidth": 1.2, "clip": true},
   "encoding": {
    "color": {"field": "site", "type": "nominal",
     "scale": {"domain": ["Harpers Island", "Roches Point"], "range": ["#0000ff", "#ff0000"]},
     "legend": {"title": "Tide Levels", "orient": "none", "legendX": 818, "legendY": 7,
      "fillColor": "#ffff00", "strokeColor": "#000", "padding": 12,
      "symbolType": "stroke", "symbolSize": 11881, "symbolStrokeWidth": 1.2,
      "clipHeight": 16, "rowPadding": 8, "labelOffset": 13, "labelLimit": 300,
      "labelFont": "Liberation Sans", "labelFontSize": 16, "labelColor": "#000",
      "titleFont": "Liberation Sans", "titleFontSize": 16, "titleFontWeight": "normal", "titleColor": "#000",
      "titleAnchor": "middle", "titlePadding": 6}}
   }
  },
  {
   "data": {"name": "wm"},
   "mark": {"type": "text", "angle": 315, "font": "Liberation Serif", "fontSize": 26.5, "color": "#c9503a", "align": "center", "baseline": "middle"},
   "encoding": {"text": {"field": "txt", "type": "nominal"}}
  }
 ]
}
]
}
